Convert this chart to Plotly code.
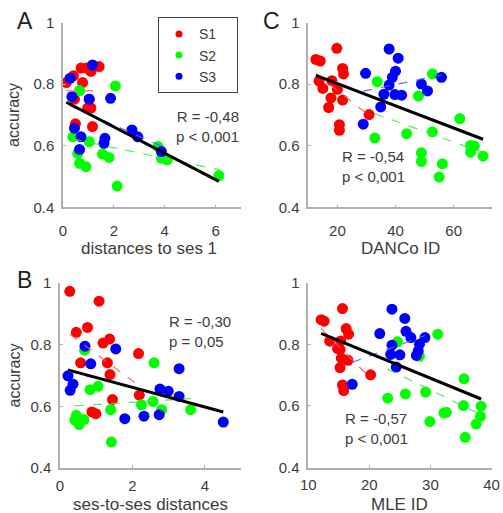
import numpy as np
import plotly.graph_objects as go

# ---------------- data ----------------
groups = ["S1", "S2", "S3"]
colors = {"S1": "#ff0000", "S2": "#00ff00", "S3": "#0000ff"}
dash_colors = {"S1": "rgba(255,90,90,0.9)", "S2": "rgba(70,230,70,0.9)", "S3": "rgba(90,90,255,0.9)"}

# Panel A: distances to ses 1
a_s1_x = [0.13, 0.41, 0.77, 0.71, 0.93, 1.10, 1.42, 0.45, 1.03, 1.10, 0.97, 0.49, 1.16]
a_s1_y = [0.805, 0.827, 0.805, 0.852, 0.852, 0.841, 0.857, 0.751, 0.751, 0.722, 0.722, 0.671, 0.662]
a_s2_x = [0.65, 2.06, 0.39, 1.03, 0.58, 0.65, 0.90, 1.55, 1.81, 2.13, 3.74, 3.87, 4.10, 6.13]
a_s2_y = [0.779, 0.794, 0.629, 0.613, 0.575, 0.543, 0.532, 0.573, 0.562, 0.469, 0.597, 0.559, 0.554, 0.503]
a_s3_x = [0.28, 1.16, 0.35, 1.03, 1.87, 0.45, 0.71, 0.65, 1.65, 1.61, 2.71, 2.94, 3.87]
a_s3_y = [0.819, 0.862, 0.759, 0.751, 0.754, 0.657, 0.629, 0.588, 0.624, 0.608, 0.651, 0.629, 0.581]

# Panel B: ses-to-ses distances
b_s1_x = [0.27, 1.08, 0.45, 0.76, 1.19, 1.37, 0.57, 1.31, 1.38, 1.45, 2.17, 2.19, 0.88, 0.99]
b_s1_y = [0.973, 0.941, 0.840, 0.856, 0.805, 0.818, 0.741, 0.741, 0.703, 0.622, 0.771, 0.636, 0.582, 0.576]
b_s2_x = [0.68, 0.83, 1.05, 0.41, 0.45, 0.53, 0.66, 1.40, 1.42, 2.25, 2.57, 2.60, 2.81, 3.61]
b_s2_y = [0.782, 0.654, 0.665, 0.555, 0.571, 0.541, 0.557, 0.589, 0.484, 0.605, 0.616, 0.741, 0.589, 0.589]
b_s3_x = [0.22, 0.36, 0.28, 0.69, 0.85, 1.54, 1.79, 2.32, 2.74, 2.76, 2.99, 3.29, 3.29, 4.51]
b_s3_y = [0.699, 0.672, 0.652, 0.795, 0.738, 0.786, 0.560, 0.568, 0.573, 0.656, 0.649, 0.632, 0.722, 0.549]

# Panels C and D: accuracy vs intrinsic dimension
s1_acc = [0.880, 0.875, 0.916, 0.810, 0.786, 0.811, 0.755, 0.724, 0.783, 0.851, 0.833, 0.748, 0.668, 0.650, 0.701]
s1_danco = [12.6, 14.1, 19.8, 13.7, 15.0, 18.1, 17.8, 17.0, 20.0, 21.8, 22.1, 21.8, 20.7, 20.7, 30.9]
s1_mle = [12.1, 12.6, 15.6, 13.5, 14.8, 15.3, 15.4, 15.2, 15.2, 16.2, 16.6, 16.5, 15.6, 15.8, 20.2]

s2_acc = [0.808, 0.833, 0.761, 0.688, 0.645, 0.639, 0.625, 0.601, 0.599, 0.579, 0.566, 0.577, 0.549, 0.541, 0.498]
s2_danco = [33.7, 52.7, 47.9, 62.1, 52.7, 43.8, 32.9, 65.8, 67.1, 65.8, 70.1, 48.9, 48.9, 56.1, 55.0]
s2_mle = [24.6, 31.2, 28.2, 35.5, 29.2, 25.9, 23.0, 35.4, 38.3, 32.6, 38.2, 32.2, 29.9, 37.5, 35.7]

s3_acc = [0.835, 0.914, 0.884, 0.842, 0.822, 0.797, 0.767, 0.726, 0.766, 0.764, 0.800, 0.778, 0.822, 0.670]
s3_danco = [29.7, 37.8, 40.9, 40.0, 38.9, 37.8, 36.0, 34.9, 39.8, 42.1, 48.9, 51.0, 55.8, 28.9]
s3_mle = [21.7, 23.7, 25.8, 26.0, 26.8, 23.7, 23.5, 24.4, 25.0, 27.7, 28.2, 28.0, 29.1, 17.2]

panel_letters = ["A", "B", "C"]
x_titles = ["distances to ses 1", "ses-to-ses distances", "DANCo ID", "MLE ID"]
stats_text = ["R = -0,48<br>p < 0,001", "R = -0,30<br>p = 0,05", "R = -0,54<br>p < 0,001", "R = -0,57<br>p < 0,001"]
y_ticks = [0.4, 0.6, 0.8, 1]
y_ticktext = ["0.4", "0.6", "0.8", "1"]

panels = [
    {"data": {"S1": (a_s1_x, a_s1_y), "S2": (a_s2_x, a_s2_y), "S3": (a_s3_x, a_s3_y)},
     "xrange": [0, 7], "xticks": [0, 2, 4, 6]},
    {"data": {"S1": (b_s1_x, b_s1_y), "S2": (b_s2_x, b_s2_y), "S3": (b_s3_x, b_s3_y)},
     "xrange": [0, 5], "xticks": [0, 2, 4]},
    {"data": {"S1": (s1_danco, s1_acc), "S2": (s2_danco, s2_acc), "S3": (s3_danco, s3_acc)},
     "xrange": [10, 73], "xticks": [20, 40, 60]},
    {"data": {"S1": (s1_mle, s1_acc), "S2": (s2_mle, s2_acc), "S3": (s3_mle, s3_acc)},
     "xrange": [10, 40], "xticks": [10, 20, 30, 40]},
]

# ---------------- layout geometry (pixels) ----------------
W, H = 503, 513
px_dom = [(63, 241, 22.5, 207.3), (60, 241, 283, 468), (308.3, 491.5, 22.5, 207.3), (308.3, 491.5, 282.7, 467.5)]
x_standoff = [9, 3, 9, 3]

FONT = "Liberation Sans, Arial, sans-serif"
TXT = "#3c3c3c"
AXC = "#b0b0b0"

fig = go.Figure()

for i, p in enumerate(panels):
    xa = "x" if i == 0 else f"x{i+1}"
    ya = "y" if i == 0 else f"y{i+1}"
    allx, ally = [], []
    for g in groups:
        xs, ys = p["data"][g]
        allx += xs
        ally += ys
        fig.add_trace(go.Scatter(x=xs, y=ys, mode="markers", xaxis=xa, yaxis=ya,
                                 marker=dict(color=colors[g], size=11, line=dict(width=0)),
                                 showlegend=False, hoverinfo="skip"))
    for g in groups:
        xs, ys = np.array(p["data"][g][0]), np.array(p["data"][g][1])
        k, b = np.polyfit(xs, ys, 1)
        xx = np.array([xs.min(), xs.max()])
        fig.add_trace(go.Scatter(x=xx, y=k * xx + b, mode="lines", xaxis=xa, yaxis=ya,
                                 line=dict(color=dash_colors[g], width=1.2, dash="dash"),
                                 showlegend=False, hoverinfo="skip"))
    allx, ally = np.array(allx), np.array(ally)
    k, b = np.polyfit(allx, ally, 1)
    xx = np.array([allx.min(), allx.max()])
    fig.add_trace(go.Scatter(x=xx, y=k * xx + b, mode="lines", xaxis=xa, yaxis=ya,
                             line=dict(color="black", width=3),
                             showlegend=False, hoverinfo="skip"))

for g in groups:
    fig.add_trace(go.Scatter(x=[None], y=[None], mode="markers", name=g + "\u00a0\u00a0\u00a0\u00a0",
                             marker=dict(color=colors[g], size=7), showlegend=True))

layout = dict(template="none", width=W, height=H,
              margin=dict(l=0, r=0, t=0, b=0, pad=0, autoexpand=False),
              paper_bgcolor="white", plot_bgcolor="white",
              font=dict(family=FONT, color=TXT, size=15),
              legend=dict(x=158 / W, y=1 - 17.3 / H, xanchor="left", yanchor="top",
                          bordercolor="#404040", borderwidth=1, bgcolor="white",
                          font=dict(size=14, color=TXT), tracegroupgap=0),
              annotations=[])

for i, p in enumerate(panels):
    l, r, t, bt = px_dom[i]
    xk = "xaxis" if i == 0 else f"xaxis{i+1}"
    yk = "yaxis" if i == 0 else f"yaxis{i+1}"
    ya = "y" if i == 0 else f"y{i+1}"
    xa = "x" if i == 0 else f"x{i+1}"
    layout[xk] = dict(domain=[l / W, r / W], range=p["xrange"], anchor=ya, automargin=False,
                      tickvals=p["xticks"], ticks="inside", ticklen=3, tickcolor=AXC,
                      showline=True, linecolor=AXC, linewidth=1.5, showgrid=False, zeroline=False,
                      tickfont=dict(size=15, color=TXT), ticklabelstandoff=x_standoff[i], fixedrange=True)
    layout[yk] = dict(domain=[1 - bt / H, 1 - t / H], range=[0.4, 1], anchor=xa, automargin=False,
                      tickvals=y_ticks, ticktext=y_ticktext, ticks="inside", ticklen=3, tickcolor=AXC,
                      showline=True, linecolor=AXC, linewidth=1.5, showgrid=False, zeroline=False,
                      tickfont=dict(size=15, color=TXT), ticklabelstandoff=4, fixedrange=True)

ann = layout["annotations"]
for letter, (x, y) in zip(panel_letters, [(25, 21), (24, 280), (271, 21)]):
    ann.append(dict(text=letter, x=x / W, y=1 - y / H, xref="paper", yref="paper",
                    showarrow=False, font=dict(size=23, color="#222222"), xanchor="center", yanchor="middle"))
for y in [(22.5 + 207.3) / 2, (283 + 468) / 2]:
    ann.append(dict(text="accuracy", x=14 / W, y=1 - y / H, xref="paper", yref="paper",
                    showarrow=False, textangle=-90, font=dict(size=16, color=TXT),
                    xanchor="center", yanchor="middle"))
for t, (x, y) in zip(x_titles, [(149, 248), (150, 504.5), (400, 248), (399, 504.5)]):
    ann.append(dict(text=t, x=x / W, y=1 - y / H, xref="paper", yref="paper",
                    showarrow=False, font=dict(size=17, color=TXT), xanchor="center", yanchor="middle"))
for t, (x, y, xa) in zip(stats_text, [(241, 126, "right"), (167, 331, "left"), (340, 167, "left"), (343, 428, "left")]):
    ann.append(dict(text=t, x=x / W, y=1 - y / H, xref="paper", yref="paper", align=xa,
                    showarrow=False, font=dict(size=15, color=TXT), xanchor=xa, yanchor="middle"))

fig.update_layout(**layout)
fig.write_html("out.html", config={"displayModeBar": False},
               post_script="document.body.style.margin='0px';document.body.style.padding='0px';")
